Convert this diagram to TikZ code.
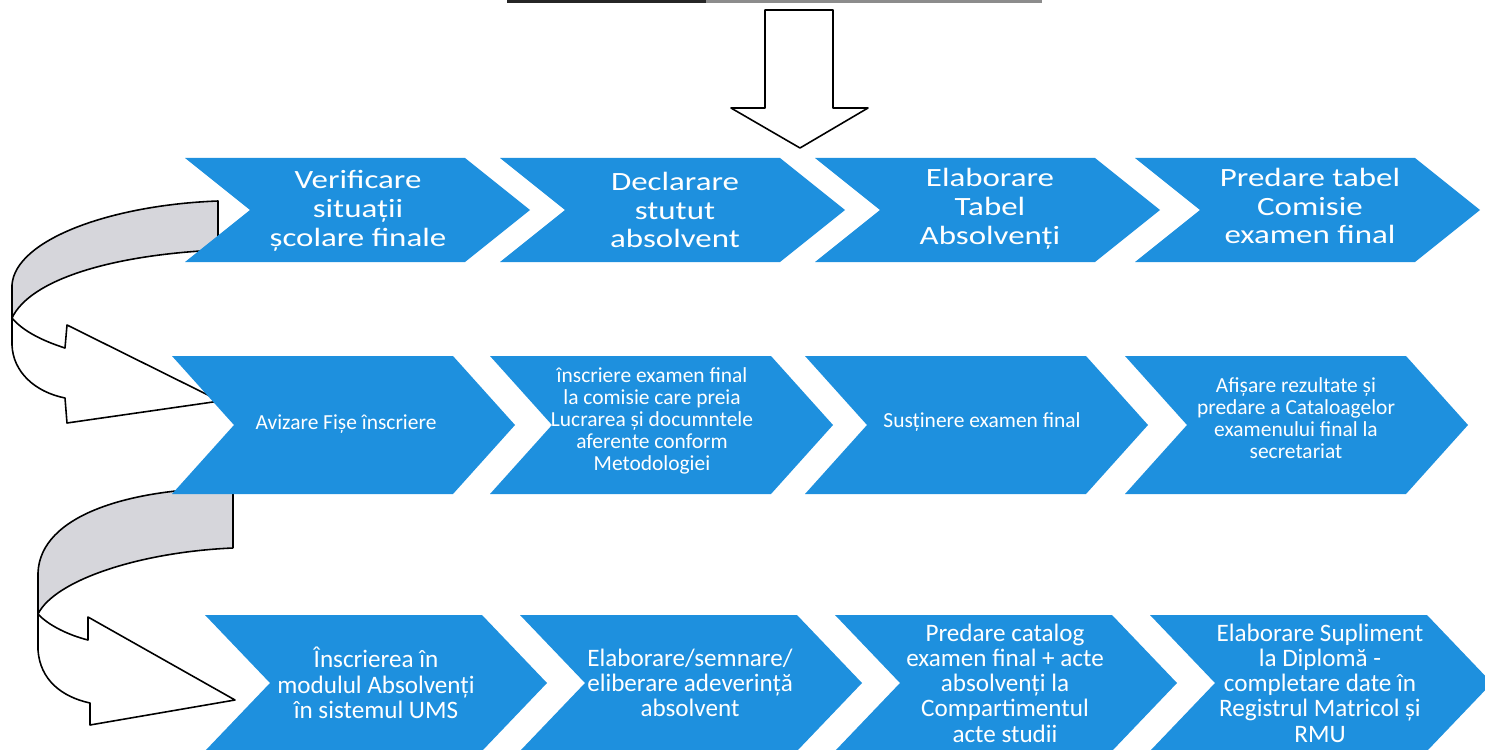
\documentclass[tikz,border=0pt]{standalone}
\usepackage{fontspec}
\setmainfont{Carlito}
\newfontfamily\widefont[FakeStretch=1.25]{Carlito}
\usepackage{tikz}

\definecolor{chevblue}{RGB}{30,144,222}
\definecolor{bandgray}{RGB}{214,214,219}

\begin{document}
\begin{tikzpicture}[x=0.02cm, y=-0.02cm,
  steptext/.style={text=white, align=center, inner sep=0pt},
  rowone/.style={steptext, font=\widefont\fontsize{15}{16.4}\selectfont},
  rowtwo/.style={steptext, font=\fontsize{12.2}{12.5}\selectfont},
  rowthree/.style={steptext, font=\fontsize{14.3}{14.4}\selectfont},
  ribbon/.style={draw=black, line width=0.9pt, line join=round}]

\useasboundingbox (0, 0) rectangle (1485, 750);

% Top edge and down arrow
\draw[line width=2.2pt, black!85] (507, 1.5) -- (706, 1.5);
\draw[line width=1.6pt, black!45] (706, 1.5) -- (1042, 1.5);
\draw[ribbon, fill=white] (765, 10) -- (833, 10) -- (833, 108) -- (868, 108) -- (800, 148) -- (731, 108) -- (765, 108) -- cycle;

% Curved arrow, row 1 to row 2
\draw[ribbon, fill=bandgray] (218, 250) -- (218, 201) .. controls (110, 205) and (15, 240) .. (12, 285) -- (12, 318) .. controls (30, 280) and (110, 255) .. (218, 250);
\draw[ribbon, fill=white] (12, 318) -- (12, 345) .. controls (13, 372) and (35, 392) .. (65, 398) -- (67, 423) -- (220, 401) -- (67, 325) -- (65, 348) .. controls (40, 340) and (22, 330) .. (12, 318);

% Curved arrow, row 2 to row 3
\draw[ribbon, fill=bandgray] (233, 548) -- (233, 488) .. controls (130, 488) and (40, 515) .. (38, 573) -- (38, 614) .. controls (55, 580) and (140, 552) .. (233, 548);
\draw[ribbon, fill=white] (38, 614) -- (38, 650) .. controls (40, 680) and (62, 697) .. (90, 703) -- (90, 725) -- (235, 700) -- (88, 617) -- (88, 640) .. controls (68, 635) and (48, 625) .. (38, 614);

% Chevrons
\foreach \x in {185, 500, 815, 1135}
  \fill[chevblue] (\x, 158) -- (\x+280, 158) -- (\x+345, 210) -- (\x+280, 262) -- (\x, 262) -- (\x+65, 210) -- cycle;
\foreach \x in {172, 490, 805, 1125}
  \fill[chevblue] (\x, 356) -- (\x+281, 356) -- (\x+343, 425) -- (\x+281, 494) -- (\x, 494) -- (\x+62, 425) -- cycle;
\foreach \x in {205, 520, 835, 1150}
  \fill[chevblue] (\x, 615) -- (\x+277, 615) -- (\x+342, 683) -- (\x+277, 751) -- (\x, 751) -- (\x+65, 683) -- cycle;

% Row 1
\node[rowone] (verif) at (358, 211) {Verificare\\situații\\școlare finale};
\node[rowone] (declar) at (675, 210) {Declarare\\stutut\\absolvent};
\node[rowone] (tabel) at (990, 209) {Elaborare\\Tabel\\Absolvenți};
\node[rowone] (predtab) at (1310, 206) {Predare tabel\\Comisie\\examen final};

% Row 2
\node[rowtwo] (aviz) at (346, 424) {Avizare Fișe înscriere};
\node[rowtwo] (inscr) at (652, 421) {înscriere examen final\\la comisie care preia\\Lucrarea și documntele\\aferente conform\\Metodologiei};
\node[rowtwo] (sust) at (982, 422) {Susținere examen final};
\node[rowtwo] (afis) at (1296, 418) {Afișare rezultate și\\predare a Cataloagelor\\examenului final la\\secretariat};

% Row 3
\node[rowthree] (ums) at (376, 683) {Înscrierea în\\modulul Absolvenți\\în sistemul UMS};
\node[rowthree] (adev) at (690, 683) {Elaborare/semnare/\\eliberare adeverință\\absolvent};
\node[rowthree] (catalog) at (1005, 683) {Predare catalog\\examen final + acte\\absolvenți la\\Compartimentul\\acte studii};
\node[rowthree] (supl) at (1320, 683) {Elaborare Supliment\\la Diplomă -\\completare date în\\Registrul Matricol și\\RMU};
\end{tikzpicture}
\end{document}
